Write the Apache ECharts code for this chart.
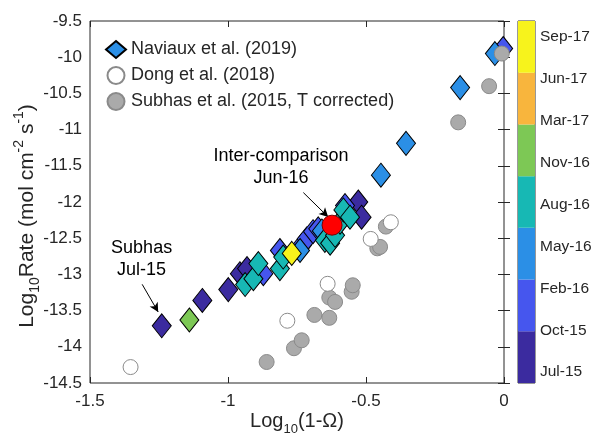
<!DOCTYPE html>
<html>
<head>
<meta charset="utf-8">
<script src="https://cdn.jsdelivr.net/npm/echarts@6/dist/echarts.min.js"></script>
<style>
  html, body { margin: 0; padding: 0; background: #fff; }
  #chart { width: 593px; height: 433px; }
</style>
</head>
<body>
<div id="chart"></div>
<script>
// colour levels of the colorbar, bottom -> top
var cbColors = ['#3b2b9f', '#4656ee', '#2b8fe6', '#17b8b4', '#7dc855', '#f8b53d', '#f7f31c'];
var cbTickPos = [0.21, 1.02, 1.83, 2.64, 3.45, 4.26, 5.07, 5.88, 6.69];
var cbTickLabels = ['Jul-15', 'Oct-15', 'Feb-16', 'May-16', 'Aug-16', 'Nov-16', 'Mar-17', 'Jun-17', 'Sep-17'];

// [log10(1-omega), log10 rate, colour level]
var naviaux = [
  [-1.240, -13.71, 0], [-1.093, -13.36, 0], [-0.999, -13.21, 0], [-0.957, -12.99, 0],
  [-0.931, -12.92, 0], [-0.528, -12.00, 0], [-0.516, -12.21, 0],
  [-0.872, -12.99, 1], [-0.812, -12.67, 1], [-0.733, -12.60, 1], [-0.715, -12.51, 1],
  [-0.692, -12.41, 1], [-0.673, -12.37, 1], [-0.576, -12.05, 1], [-0.003, -9.88, 1],
  [-0.739, -12.67, 2], [-0.660, -12.40, 2], [-0.446, -11.63, 2], [-0.355, -11.19, 2],
  [-0.159, -10.42, 2], [-0.033, -9.95, 2],
  [-0.938, -13.14, 3], [-0.908, -13.06, 3], [-0.890, -12.85, 3], [-0.812, -12.92, 3],
  [-0.800, -12.76, 3], [-0.649, -12.53, 3], [-0.630, -12.57, 3], [-0.612, -12.46, 3],
  [-0.594, -12.28, 3], [-0.582, -12.11, 3], [-0.558, -12.21, 3],
  [-1.140, -13.63, 4],
  [-0.769, -12.71, 6]
];
var dong = [[-1.353, -14.28], [-0.785, -13.64], [-0.639, -13.13], [-0.483, -12.51], [-0.410, -12.28]];
var subhas = [
  [-0.860, -14.21], [-0.761, -14.02], [-0.733, -13.91], [-0.687, -13.56], [-0.633, -13.60],
  [-0.633, -13.32], [-0.612, -13.38], [-0.552, -13.24], [-0.548, -13.15], [-0.459, -12.64],
  [-0.449, -12.62], [-0.428, -12.34], [-0.166, -10.90], [-0.054, -10.40], [-0.008, -9.95]
];
var interComp = [[-0.623, -12.32]];

// annotations (data coordinates)
var notes = [
  { text: 'Inter-comparison\nJun-16', x: -0.808, y: -11.52 },
  { text: 'Subhas\nJul-15', x: -1.313, y: -12.79 }
];
var arrows = [
  [[-0.727, -11.87], [-0.637, -12.207]],
  [[-1.311, -13.137], [-1.253, -13.519]]
];

var FONT = 'Liberation Sans, Arial, sans-serif';
var TXT = '#262626';

var myChart = echarts.init(document.getElementById('chart'));

var cbSeries = cbColors.map(function(c, i) {
  return {
    type: 'bar', xAxisIndex: 2, yAxisIndex: 2, stack: 'cb',
    data: [1], barWidth: '100%', itemStyle: { color: c }, silent: true
  };
});

var richX = {
  a: { fontSize: 20, fontFamily: FONT, color: TXT, lineHeight: 30 },
  sub: { fontSize: 13, fontFamily: FONT, color: TXT, lineHeight: 14, verticalAlign: 'bottom' }
};
var richY = {
  a: { fontSize: 21, fontFamily: FONT, color: TXT, lineHeight: 30 },
  sub: { fontSize: 14, fontFamily: FONT, color: TXT, lineHeight: 14, verticalAlign: 'bottom' },
  sup: { fontSize: 14, fontFamily: FONT, color: TXT, lineHeight: 14, verticalAlign: 'top' }
};

var option = {
  animation: false,
  grid: [
    { left: 90, top: 21, width: 414, height: 362, show: true, borderColor: '#262626', borderWidth: 1,
      containLabel: false, outerBoundsMode: 'none' },
    { left: 518, top: 21, width: 17, height: 362, show: true, borderColor: '#333', borderWidth: 1,
      containLabel: false, outerBoundsMode: 'none' }
  ],
  legend: {
    data: ['Naviaux et al. (2019)', 'Dong et al. (2018)', 'Subhas et al. (2015, T corrected)'],
    orient: 'vertical', left: 100, top: 35,
    itemWidth: 20, itemHeight: 17, itemGap: 7,
    textStyle: { fontSize: 18, fontFamily: FONT, color: TXT }
  },
  xAxis: [
    {
      type: 'value', gridIndex: 0, min: -1.5, max: 0, interval: 0.5,
      name: '{a|Log}{sub|10}{a|(1-Ω)}', nameLocation: 'middle', nameGap: 23,
      nameMoveOverlap: false,
      nameTextStyle: { rich: richX },
      axisLine: { show: false },
      axisTick: { inside: true, length: 6, lineStyle: { color: '#262626' } },
      axisLabel: { fontSize: 17, fontFamily: FONT, color: TXT, margin: 10 },
      splitLine: { show: false }
    },
    {
      type: 'value', gridIndex: 0, position: 'top', min: -1.5, max: 0, interval: 0.5,
      axisLine: { show: false },
      axisTick: { inside: true, length: 6, lineStyle: { color: '#262626' } },
      axisLabel: { show: false }, splitLine: { show: false }
    },
    {
      type: 'category', gridIndex: 1, data: ['cb'], show: false
    }
  ],
  yAxis: [
    {
      type: 'value', gridIndex: 0, min: -14.5, max: -9.5, interval: 0.5,
      name: '{a|Log}{sub|10}{a|Rate (mol cm}{sup|-2}{a| s}{sup|-1}{a|)}',
      nameLocation: 'middle', nameGap: 48,
      nameMoveOverlap: false,
      nameTextStyle: { rich: richY, padding: [0, 28, 0, 0] },
      axisLine: { show: false },
      axisTick: { inside: true, length: 6, lineStyle: { color: '#262626' } },
      axisLabel: { fontSize: 17, fontFamily: FONT, color: TXT, margin: 8 },
      splitLine: { show: false }
    },
    {
      type: 'value', gridIndex: 0, position: 'right', min: -14.5, max: -9.5, interval: 0.5,
      axisLine: { show: false },
      axisTick: { inside: true, length: 6, lineStyle: { color: '#262626' } },
      axisLabel: { show: false }, splitLine: { show: false }
    },
    {
      type: 'value', gridIndex: 1, position: 'right', min: 0, max: 7,
      axisLine: { show: false },
      axisTick: { inside: true, length: 3, customValues: cbTickPos, lineStyle: { color: '#333' } },
      axisLabel: {
        customValues: cbTickPos, margin: 5, fontSize: 15.5, fontFamily: FONT, color: TXT,
        formatter: function(v) {
          var i = cbTickPos.indexOf(v);
          return i >= 0 ? cbTickLabels[i] : '';
        }
      },
      splitLine: { show: false }
    }
  ],
  series: [
    {
      name: 'Naviaux et al. (2019)', type: 'scatter', symbol: 'diamond', symbolSize: [19, 24],
      itemStyle: { color: '#2b8fe6', borderColor: '#000', borderWidth: 1, opacity: 1 },
      data: naviaux.map(function(d) {
        return { value: [d[0], d[1]], itemStyle: { color: cbColors[d[2]] } };
      }),
      z: 2
    },
    {
      name: 'Subhas et al. (2015, T corrected)', type: 'scatter', symbol: 'circle', symbolSize: 15,
      itemStyle: { color: '#aaaaaa', borderColor: '#8a8a8a', borderWidth: 1, opacity: 1 },
      data: subhas, z: 3
    },
    {
      name: 'Dong et al. (2018)', type: 'scatter', symbol: 'circle', symbolSize: 15,
      itemStyle: { color: '#ffffff', borderColor: '#8a8a8a', borderWidth: 1, opacity: 1 },
      data: dong, z: 4
    },
    {
      name: 'Inter-comparison', type: 'scatter', symbol: 'circle', symbolSize: 20,
      itemStyle: { color: '#ff0000', borderColor: '#7a0000', borderWidth: 1, opacity: 1 },
      data: interComp, z: 5,
      markLine: {
        silent: true, animation: false,
        symbol: ['none', 'arrow'], symbolSize: [7, 9],
        label: { show: false },
        lineStyle: { color: '#000', width: 1, type: 'solid', opacity: 1 },
        data: arrows.map(function(a) {
          return [{ coord: a[0] }, { coord: a[1] }];
        })
      }
    },
    {
      type: 'scatter', symbolSize: 0, silent: true,
      itemStyle: { opacity: 1 },
      data: notes.map(function(n) { return { value: [n.x, n.y], text: n.text }; }),
      label: {
        show: true, position: 'inside', align: 'center', verticalAlign: 'middle',
        fontSize: 18, lineHeight: 22, fontFamily: FONT, color: '#000',
        formatter: function(p) { return p.data.text; }
      }
    }
  ].concat(cbSeries)
};
myChart.setOption(option);
</script>
</body>
</html>
